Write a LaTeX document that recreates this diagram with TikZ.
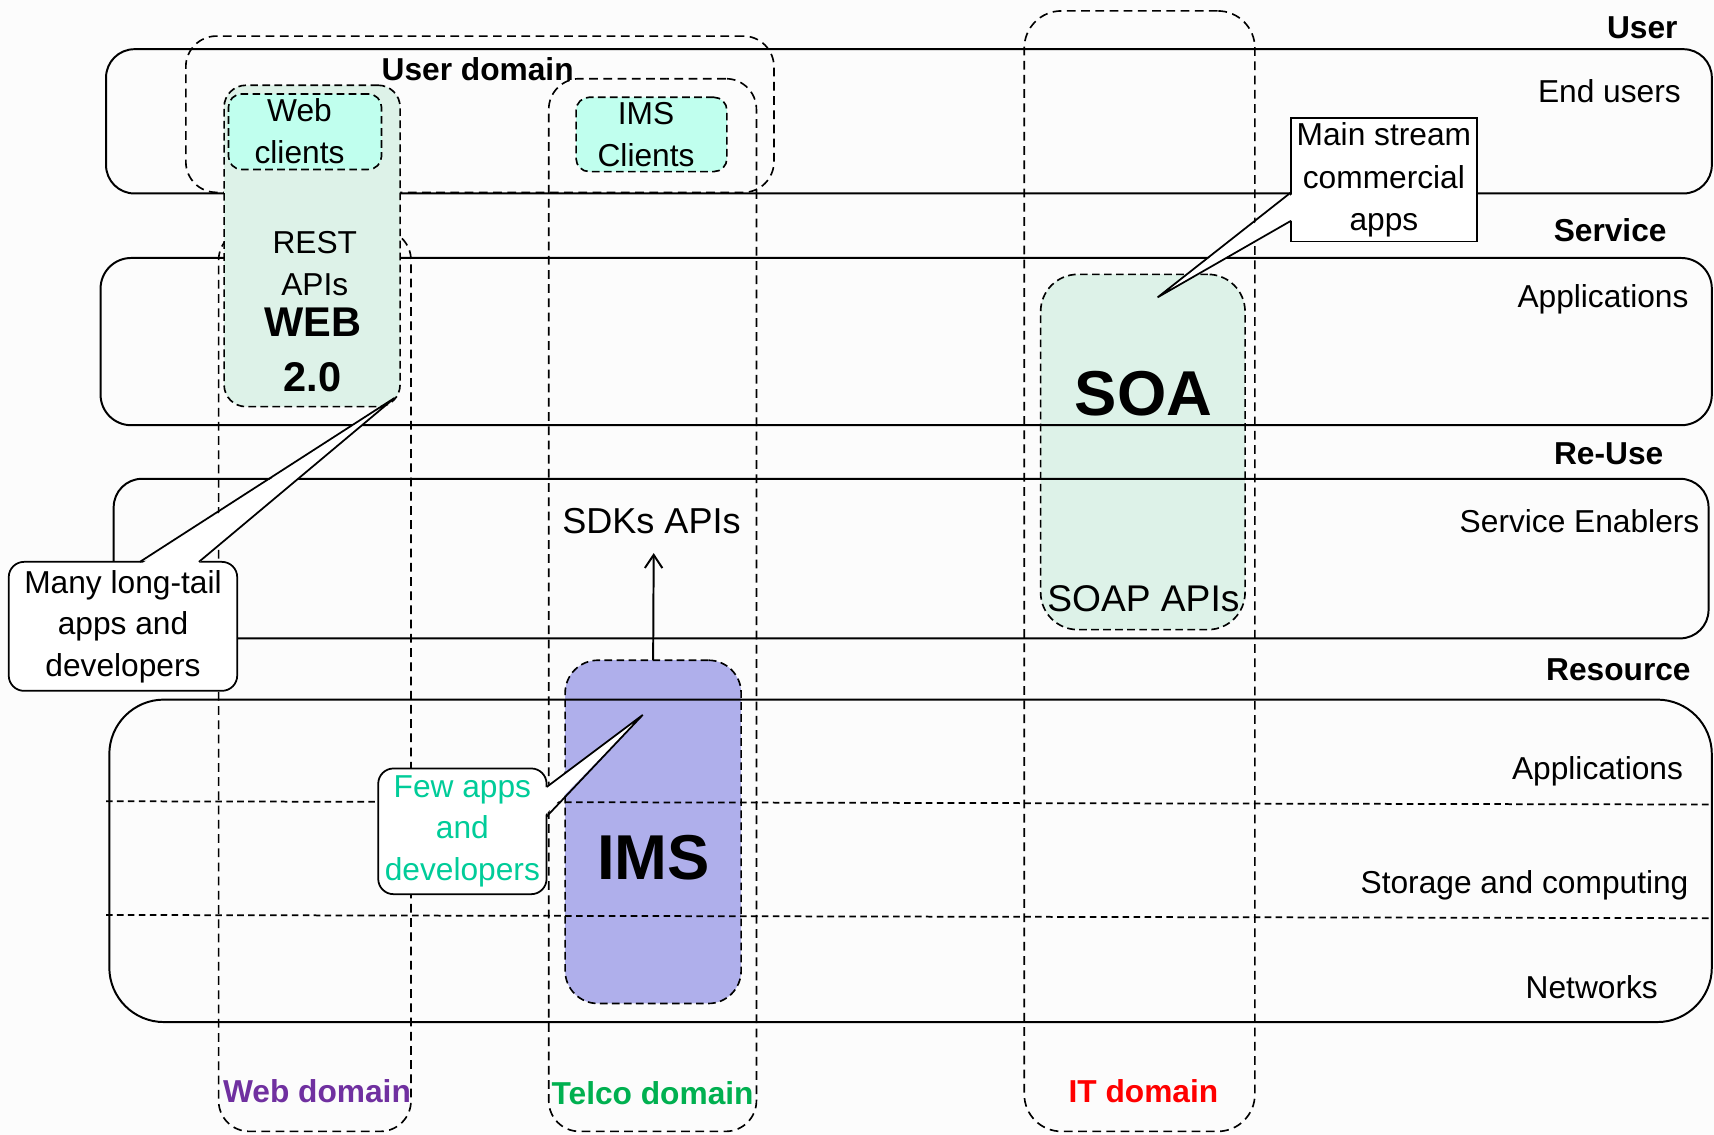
\documentclass[tikz,border=0pt]{standalone}
\usepackage{fontspec}
\setmainfont{Liberation Sans}
\usetikzlibrary{fit,calc,arrows.meta}
\definecolor{mint}{HTML}{DDF2E8}
\definecolor{aqua}{HTML}{C0FFEE}
\definecolor{lav}{HTML}{AFAFEB}
\definecolor{webpurple}{HTML}{7030A0}
\definecolor{telcogreen}{HTML}{00B050}
\definecolor{fewgreen}{HTML}{00CC99}
\definecolor{bgcol}{HTML}{FCFCFC}
\begin{document}
\begin{tikzpicture}[x=0.5pt,y=-0.5pt,
  band/.style={draw, line width=0.9pt, rounded corners=13pt, inner sep=0pt, outer sep=0pt},
  dom/.style={draw, line width=0.75pt, dash pattern=on 4pt off 2.5pt, rounded corners=14pt, inner sep=0pt, outer sep=0pt},
  fbox/.style={draw, line width=0.75pt, dash pattern=on 3.5pt off 2pt, inner sep=0pt, outer sep=0pt},
  hdash/.style={line width=0.8pt, dash pattern=on 3pt off 2pt},
  txt/.style={font=\fontsize{14.5}{19}\selectfont, inner sep=0pt, align=center},
  btxt/.style={font=\fontsize{14.5}{19}\selectfont\bfseries, inner sep=0pt, align=center},
  call/.style={draw, fill=white, line width=0.8pt, inner sep=0pt, outer sep=0pt},
  ptr/.style={line width=0.8pt, line join=miter}
]
\useasboundingbox[fill=bgcol] (0,0) rectangle (1568,1038);

% boxes lying under the band lines
\node[fbox, fill=lav, rounded corners=15pt, fit={(517,604) (678,918)}] (ims) {};
\node[fbox, fill=mint, rounded corners=17pt, fit={(952,251) (1139,576)}] (soa) {};

% layer bands
\node[band, fit={(97,45) (1566,177)}] (userband) {};
\node[band, rounded corners=14pt, fit={(92,236) (1566,389)}] (serviceband) {};
\node[band, fit={(104,438) (1563,584)}] (reuseband) {};
\node[band, rounded corners=25pt, fit={(100,640) (1566,935)}] (resband) {};
\coordinate (d1a) at (97,733); \coordinate (d1b) at (1566,736);
\coordinate (d2a) at (97,837); \coordinate (d2b) at (1566,840);
\draw[hdash] (d1a) -- (d1b);
\draw[hdash] (d2a) -- (d2b);

% domain columns
\node[dom, fit={(200,210) (376,1035)}] (webdom) {};
\node[dom, fit={(502,72) (692,1035)}] (telcodom) {};
\node[dom, rounded corners=17pt, fit={(937,10) (1148,1035)}] (itdom) {};
\node[dom, fit={(170,33) (708,176)}] (userdom) {};

% filled boxes on top
\node[fbox, fill=mint, rounded corners=10pt, fit={(205,78) (366,372)}] (web) {};
\node[fbox, fill=aqua, rounded corners=6pt, fit={(209,86) (349,155)}] (webcl) {};
\node[fbox, fill=aqua, rounded corners=6pt, fit={(527,89) (665,157)}] (imscl) {};

% right-hand labels
\node[btxt, anchor=east] (lUser) at (1535,25) {User};
\node[txt, anchor=east] (lEnd) at (1538,83) {End users};
\node[btxt, anchor=east] (lService) at (1525,211) {Service};
\node[txt, anchor=east] (lApp1) at (1545,274) {Applications};
\node[btxt, anchor=east] (lReuse) at (1522,415) {Re-Use};
\node[txt, anchor=east] (lEnab) at (1555,477) {Service Enablers};
\node[btxt, anchor=east] (lRes) at (1547,613) {Resource};
\node[txt, anchor=east] (lApp2) at (1540,706) {Applications};
\node[txt, anchor=east] (lStor) at (1545,810) {Storage and computing};
\node[txt, anchor=east] (lNet) at (1517,903) {Networks};

% texts in boxes
\node[btxt] (tUserdom) at (437,63) {User domain};
\node[txt] (tWebcl) at (274,120) {Web\\clients};
\node[txt] (tImscl) at (591,123) {IMS\\Clients};
\node[txt, font=\fontsize{14.5}{19.5}\selectfont] (tRest) at (288,241) {REST\\APIs};
\node[inner sep=0pt, align=center, font=\fontsize{19}{25.5}\selectfont\bfseries] (tWeb) at (286,320) {WEB\\2.0};
\node[inner sep=0pt, font=\fontsize{29}{34}\selectfont\bfseries] (tSoa) at (1046,360) {SOA};
\node[inner sep=0pt, font=\fontsize{17}{20}\selectfont] (tSoap) at (1046,548) {SOAP APIs};
\node[inner sep=0pt, font=\fontsize{16.5}{20}\selectfont] (sdk) at (596,477) {SDKs APIs};
\node[inner sep=0pt, font=\fontsize{29}{34}\selectfont\bfseries] (tIms) at (598,785) {IMS};

% domain labels
\node[btxt, text=webpurple] (tWebdom) at (290,998) {Web domain};
\node[btxt, text=telcogreen] (tTelcodom) at (597,1000) {Telco domain};
\node[btxt, text=red] (tItdom) at (1046,998) {IT domain};

% arrow IMS -> SDKs APIs
\coordinate (sdkarrow) at (598,506);
\draw[line width=0.9pt, -{Straight Barb[length=6pt,width=8pt]}] (ims.north) -- (sdkarrow);

% callout: many long-tail
\node[call, rounded corners=7pt, minimum width=104.5pt, minimum height=59pt, txt] (mlt) at (112.5,573) {Many long-tail\\apps and\\developers};
\coordinate (mlttip) at (361,364);
\fill[white] ($(mlt.north west)+(121,2)$) -- (mlttip) -- ($(mlt.north west)+(173,2)$) -- cycle;
\draw[ptr] ($(mlt.north west)+(120,0)$) -- (mlttip) -- ($(mlt.north west)+(174,0)$);

% callout: few apps
\node[call, rounded corners=7pt, minimum width=77pt, minimum height=57.5pt, txt, text=fewgreen] (few) at (423,760.5) {Few apps\\and\\developers};
\coordinate (fewtip) at (588,654);
\fill[white] ($(few.north east)+(-2,18)$) -- (fewtip) -- ($(few.north east)+(-2,43)$) -- cycle;
\draw[ptr] ($(few.north east)+(0,17)$) -- (fewtip) -- ($(few.north east)+(0,44)$);

% callout: main stream
\node[call, minimum width=85pt, minimum height=56.5pt, txt, font=\fontsize{14.5}{19.5}\selectfont] (main) at (1266,164.5) {Main stream\\commercial\\apps};
\coordinate (maintip) at (1059,272);
\fill[white] ($(main.north west)+(2,69)$) -- (maintip) -- ($(main.north west)+(2,93)$) -- cycle;
\draw[ptr] ($(main.north west)+(0,68)$) -- (maintip) -- ($(main.north west)+(0,94)$);
\end{tikzpicture}
\end{document}
